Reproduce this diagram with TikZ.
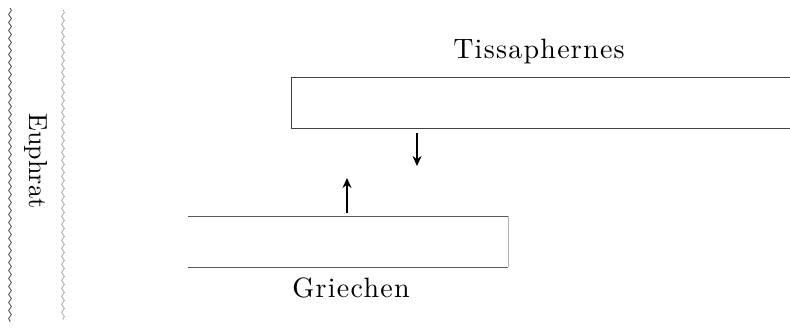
\documentclass[tikz,border=0pt]{standalone}
\usepackage{fontspec}
\newfontfamily\spacedfont{lmroman10-regular.otf}[LetterSpace=4.5]
\newfontfamily\riverfont{lmroman10-regular.otf}
\usetikzlibrary{arrows.meta,decorations.pathmorphing}
\tikzset{
  label/.style={inner sep=0pt, anchor=base, font=\spacedfont\fontsize{28}{32}\selectfont},
  river/.style={decorate, decoration={snake, segment length=8pt, amplitude=1.4pt}, line width=0.7pt},
  edge/.style={draw=black!75, line width=0.8pt},
  faint/.style={draw=black!30, line width=0.5pt},
  arr/.style={line width=1.7pt, -{Stealth[length=10pt,width=9pt]}}
}
\begin{document}
\begin{tikzpicture}[x=1pt,y=-1pt]
\useasboundingbox[fill=white] (0,0) rectangle (790,327);
% Euphrat banks
\coordinate (b1t) at (10,8);
\coordinate (b1b) at (10,322);
\coordinate (b2t) at (63,10);
\coordinate (b2b) at (63,320);
\draw[river, black!80] (b1t) -- (b1b);
\draw[river, black!45, line width=0.5pt] (b2t) -- (b2b);
\node[inner sep=0pt, anchor=base, rotate=-90, font=\riverfont\fontsize{26}{30}\selectfont] (euphrat) at (29,161) {Euphrat};
% Tissaphernes block
\node[inner sep=0pt, minimum width=499pt, minimum height=51pt, anchor=north west] (tbox) at (291,77) {};
\draw[edge] (tbox.north west) -- (tbox.north east);
\draw[edge] (tbox.south west) -- (tbox.south east);
\draw[edge, line width=0.6pt] (tbox.north west) -- (tbox.south west);
\node[label] (tiss) at (539,58) {Tissaphernes};
% Griechen block
\node[inner sep=0pt, minimum width=320pt, minimum height=51pt, anchor=north west] (gbox) at (188,216) {};
\draw[edge, draw=black!65] (gbox.north west) -- (gbox.north east);
\draw[edge, draw=black!65] (gbox.south west) -- (gbox.south east);
\draw[faint] (gbox.north east) -- (gbox.south east);
\node[label] (grie) at (351,297) {Griechen};
% arrows
\coordinate (d1) at (417,133);
\coordinate (d2) at (417,166);
\coordinate (u1) at (347,213);
\coordinate (u2) at (347,178);
\draw[arr] (d1) -- (d2);
\draw[arr] (u1) -- (u2);
\end{tikzpicture}
\end{document}
